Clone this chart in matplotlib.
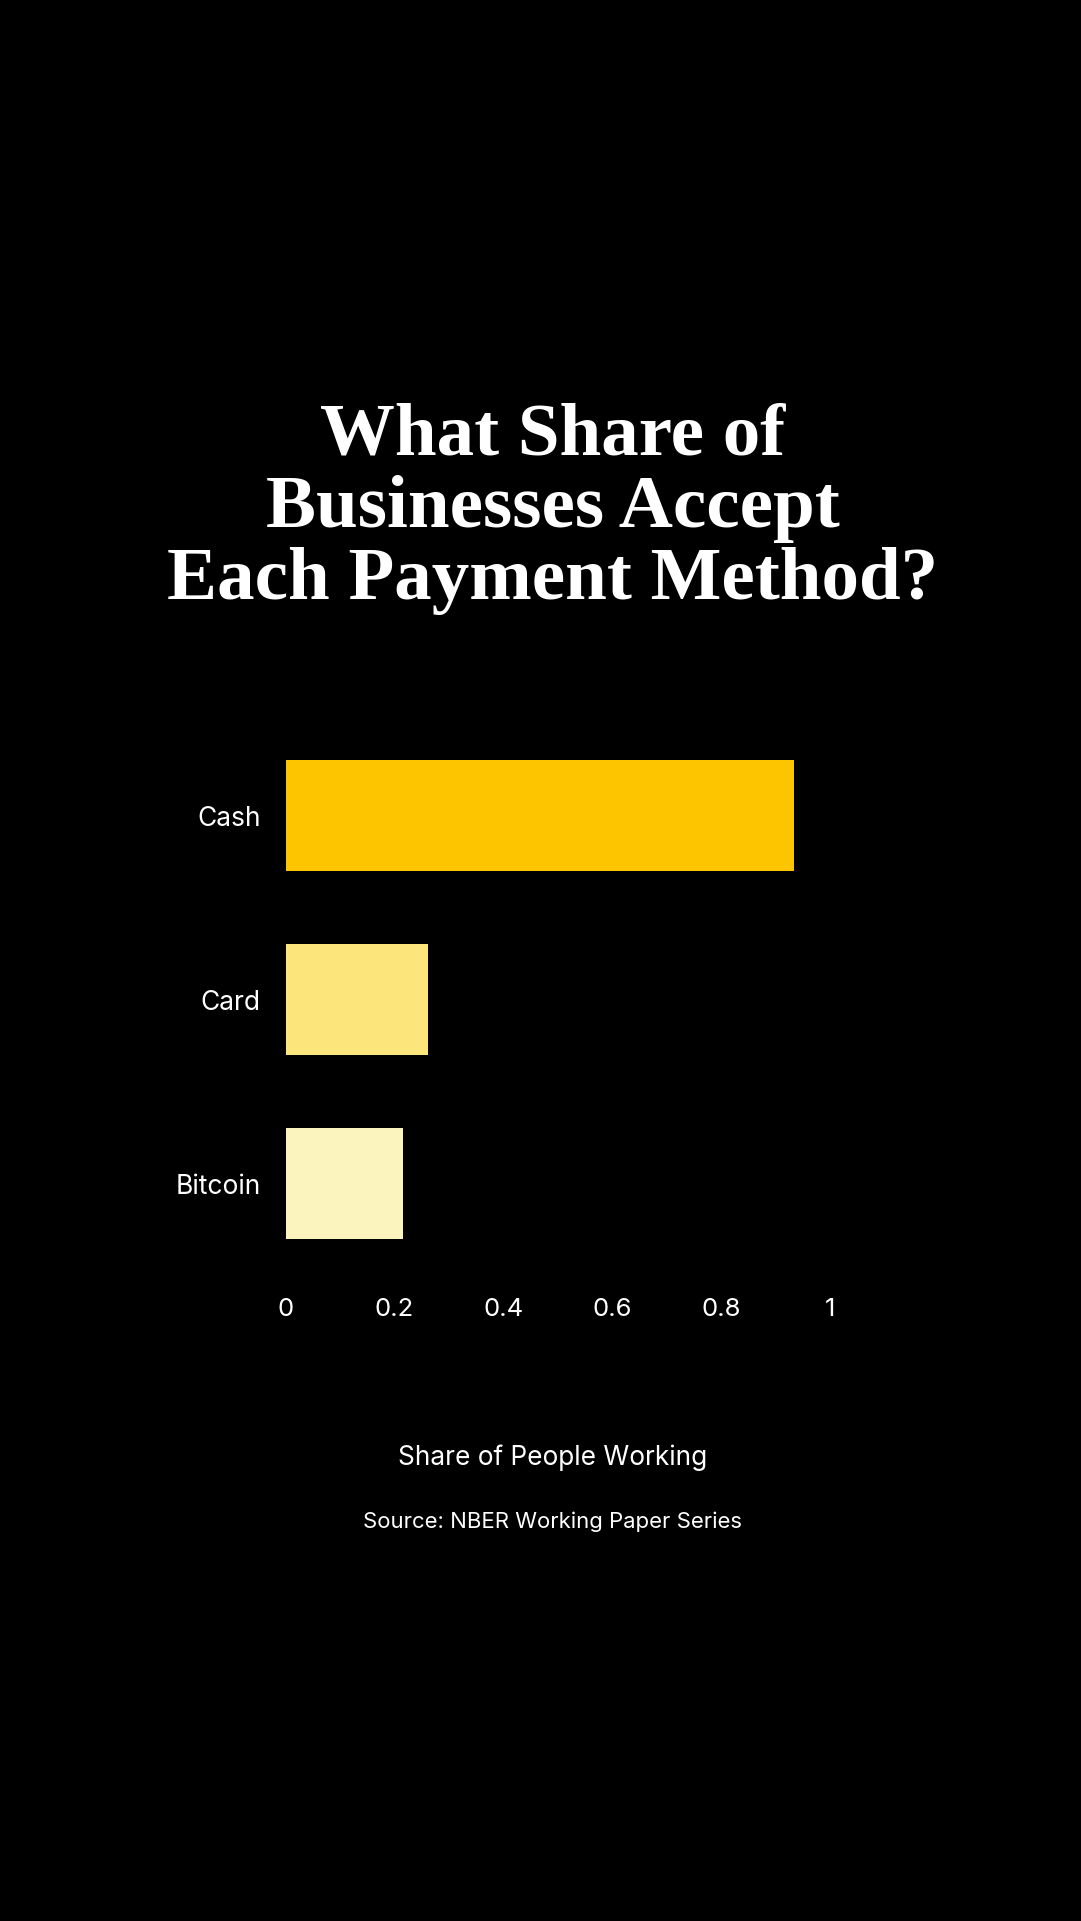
import numpy as np
import matplotlib
matplotlib.use('Agg')
import matplotlib.pyplot as plt

# data
methods = ['Cash', 'Card', 'Bitcoin']
share = [0.935, 0.261, 0.216]
bar_colors = ['#FCC500', '#FCE57B', '#FBF4BE']
xticks = [0, 0.2, 0.4, 0.6, 0.8, 1]
xtick_labels = ['0', '0.2', '0.4', '0.6', '0.8', '1']

title = 'What Share of\nBusinesses Accept\nEach Payment Method?'
xlabel = 'Share of People Working'
source = 'Source: NBER Working Paper Series'

plt.rcParams['font.family'] = ['Inter', 'DejaVu Sans']

fig = plt.figure(figsize=(10.81, 19.21), dpi=100, facecolor='black')
ax = fig.add_axes([0.2642, 0.336, 0.5033, 0.2873])
ax.set_facecolor('black')

y = np.arange(len(methods))
ax.barh(y, share, height=0.6, color=bar_colors)
ax.set_ylim(2.5, -0.5)
ax.set_xlim(0, 1)

ax.set_yticks(y)
ax.set_yticklabels(methods)
ax.set_xticks(xticks)
ax.set_xticklabels(xtick_labels)
ax.tick_params(axis='y', length=0, pad=18, labelsize=19, labelcolor='white')
ax.tick_params(axis='x', length=0, pad=16, labelsize=18.5, labelcolor='white')
for s in ax.spines.values():
    s.set_visible(False)

# title in serif
fig.text(0.511, 0.735, title, ha='center', va='center', color='white',
         fontsize=54, fontweight='bold', family='Liberation Serif', linespacing=1.085)

fig.text(0.511, 1 - 1458 / 1921, xlabel, ha='center', va='center', color='white',
         fontsize=18.9)
fig.text(0.511, 1 - 1522 / 1921, source, ha='center', va='center', color='white',
         fontsize=15.9)

fig.savefig('out.png', dpi=100, facecolor='black')
